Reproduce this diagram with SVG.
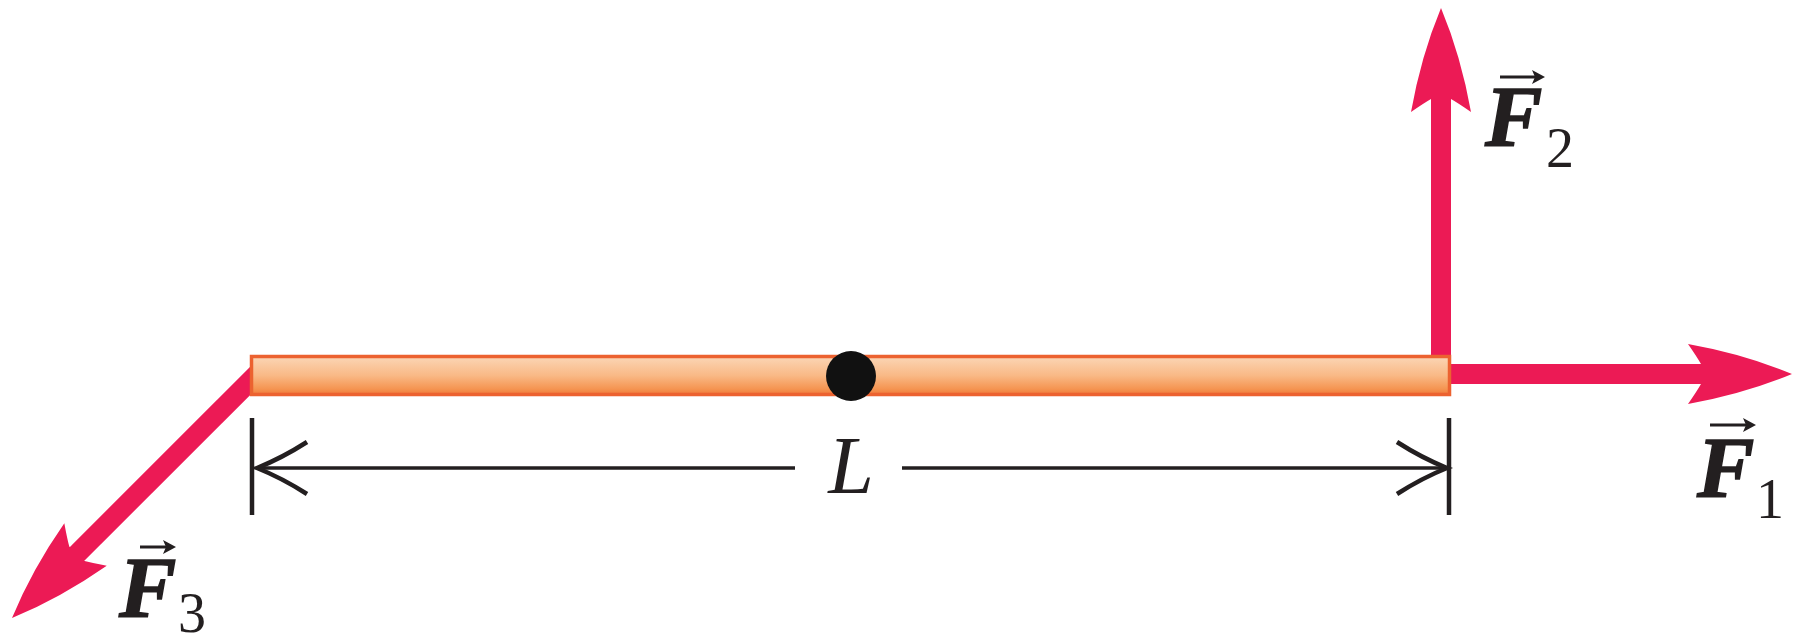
<svg xmlns="http://www.w3.org/2000/svg" width="1803" height="642" viewBox="0 0 1803 642">
<style>
.shaft{stroke:#ec1a55;stroke-width:20;fill:none}
.head{fill:#ec1a55}
.dim{stroke:#231f20;stroke-width:3.5;fill:none}
.tick{stroke:#231f20;stroke-width:4.5;fill:none}
.vecF{font-family:"Liberation Serif","Times New Roman",serif;font-style:italic;font-weight:bold;font-size:86px;fill:#231f20;stroke:#231f20;stroke-width:1.5}
.sub{font-family:"Liberation Serif","Times New Roman",serif;font-size:56px;fill:#231f20}
.lab{font-family:"Liberation Serif","Times New Roman",serif;font-style:italic;font-size:82px;fill:#231f20}
.acc{stroke:#231f20;stroke-width:3;fill:none}
.accH{fill:#231f20}
</style>
<defs>
<linearGradient id="rodGrad" x1="0" y1="0" x2="0" y2="1">
<stop offset="0" stop-color="#fbd6b6"/>
<stop offset="0.5" stop-color="#f9b986"/>
<stop offset="0.85" stop-color="#f59552"/>
<stop offset="1" stop-color="#f07a3a"/>
</linearGradient>
<path id="ahead" d="M0,0 Q-48,-20 -104,-30 Q-95,-17 -91,-10 L-91,10 Q-95,17 -104,30 Q-48,20 0,0 Z"/>
</defs>
<g id="connectors">
<g id="F3-arrow">
<line class="shaft" x1="262" y1="369" x2="70" y2="561"/>
<use href="#ahead" class="head" transform="translate(12,618) rotate(135)"/>
</g>
<g id="F2-arrow">
<line class="shaft" x1="1441" y1="365" x2="1441" y2="90"/>
<use href="#ahead" class="head" transform="translate(1441,8) rotate(-90)"/>
</g>
<g id="F1-arrow">
<line class="shaft" x1="1445" y1="374" x2="1710" y2="374"/>
<use href="#ahead" class="head" transform="translate(1792,374)"/>
</g>
<g id="dimension">
<line class="tick" x1="252" y1="418" x2="252" y2="515"/>
<line class="tick" x1="1449" y1="418" x2="1449" y2="515"/>
<line class="dim" x1="256" y1="468" x2="795" y2="468"/>
<line class="dim" x1="902" y1="468" x2="1447" y2="468"/>
<path class="tick" d="M307,442 Q282,458 257,468 Q282,478 307,494"/>
<path class="tick" d="M1397,442 Q1422,458 1447,468 Q1422,478 1397,494"/>
</g>
</g>
<g id="rod">
<rect x="251.5" y="356.5" width="1198" height="38" fill="url(#rodGrad)" stroke="#ec6230" stroke-width="3.5"/>
</g>
<g id="center">
<circle cx="851" cy="376" r="25" fill="#111"/>
</g>
<g id="label-L">
<text class="lab" x="851" y="493" text-anchor="middle">L</text>
</g>
<g id="label-F2">
<line class="acc" x1="1500" y1="77" x2="1538" y2="77"/>
<path class="accH" d="M1545,77 L1532,70 L1535,77 L1532,84 Z"/>
<text class="vecF" x="1485" y="146">F</text>
<text class="sub" x="1546" y="167">2</text>
</g>
<g id="label-F1">
<line class="acc" x1="1710" y1="425" x2="1749" y2="425"/>
<path class="accH" d="M1756,425 L1743,418 L1746,425 L1743,432 Z"/>
<text class="vecF" x="1697" y="497">F</text>
<text class="sub" x="1756" y="518">1</text>
</g>
<g id="label-F3">
<line class="acc" x1="140" y1="547" x2="169" y2="547"/>
<path class="accH" d="M176,547 L163,540 L166,547 L163,554 Z"/>
<text class="vecF" x="119" y="617">F</text>
<text class="sub" x="178" y="632">3</text>
</g>
</svg>
